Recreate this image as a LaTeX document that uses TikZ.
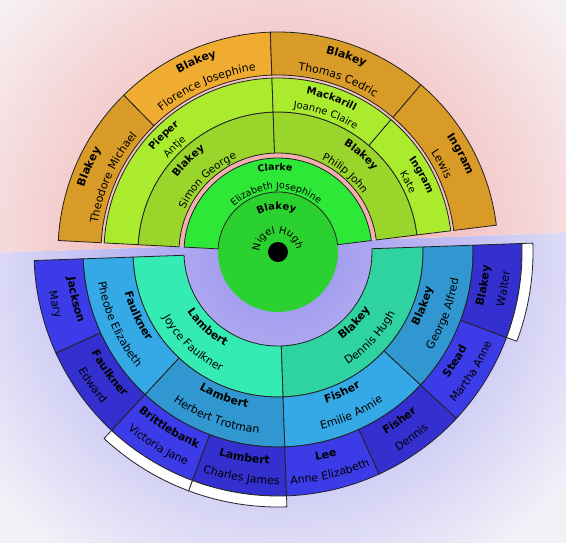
\documentclass[tikz,border=0pt]{standalone}
\usepackage{fontspec}
\setmainfont{DejaVu Sans}
\usepackage{xcolor}
\definecolor{rootGreen}{HTML}{2BD12F}
\definecolor{partnerGreen}{HTML}{2EE838}
\definecolor{childLime}{HTML}{9AD52B}
\definecolor{spouseLime}{HTML}{AAEB2E}
\definecolor{grandOchre}{HTML}{D99B28}
\definecolor{grandAmber}{HTML}{F0AC30}
\definecolor{parentMint}{HTML}{33EBB3}
\definecolor{parentTeal}{HTML}{2ED3A0}
\definecolor{grandSky}{HTML}{35A9E6}
\definecolor{grandCerulean}{HTML}{3097D0}
\definecolor{greatBlue}{HTML}{3C3BE8}
\definecolor{greatIndigo}{HTML}{3430D0}
\definecolor{outlineDark}{HTML}{222222}
\definecolor{pinkInner}{HTML}{F39999}
\definecolor{pinkOuter}{HTML}{F6F0F2}
\definecolor{lavenderInner}{HTML}{968EEE}
\definecolor{lavenderOuter}{HTML}{F1F1F8}
\usepackage{tikz}
\usetikzlibrary{decorations.text}
\tikzset{
    % Outline of every person box
    fan box/.style={
        draw=outlineDark,
        line width=0.8pt,
        line join=round,
    },
    % Empty bar for more generations
    more bar/.style={
        fan box,
        fill=white,
    },
    % Name written along an arc
    arc text/.style={
        decorate,
        decoration={text along path, text align=center, text={#1}},
    },
}
% font size in px
\newcommand{\fanFont}[1]{\fontsize{#1}{#1}\selectfont}
% box: from angle, to angle, inner radius, outer radius, fill
\newcommand{\fanBox}[5]{%
    \filldraw[fan box, fill=#5] (#1:#3pt) arc[start angle=#1, end angle=#2, radius=#3pt]
        -- (#2:#4pt) arc[start angle=#2, end angle=#1, radius=#4pt] -- cycle;}
% upper half, text tops point outwards
\newcommand{\upperLabel}[5]{%
    \path[arc text={|#4|#5}] (#2:#3pt) arc[start angle=#2, end angle=#1, radius=#3pt];}
% lower half, text tops point to the centre
\newcommand{\lowerLabel}[5]{%
    \path[arc text={|#4|#5}] (#1:#3pt) arc[start angle=#1, end angle=#2, radius=#3pt];}

\begin{document}
\begin{tikzpicture}[x=1pt, y=1pt]
    \useasboundingbox (-278,-290) rectangle (288,252);
    \begin{scope}
        \clip[rotate=2] (-700,9) rectangle (700,700);
        \fill[pinkOuter] (-700,-700) rectangle (700,700);
        \shade[inner color=pinkInner, outer color=pinkOuter] (0,0) circle (370pt);
    \end{scope}
    \begin{scope}
        \clip[rotate=2] (-700,9) rectangle (700,-700);
        \fill[lavenderOuter] (-700,-700) rectangle (700,700);
        \shade[inner color=lavenderInner, outer color=lavenderOuter] (0,0) circle (370pt);
    \end{scope}

    \fill[rootGreen] (0,0) circle (60pt);

    \fanBox{7}{177}{60}{94}{partnerGreen}
    \fanBox{92}{177}{99}{140}{childLime}
    \fanBox{7}{92}{99}{140}{childLime}
    \fanBox{92}{177}{140}{174}{spouseLime}
    \fanBox{49.5}{92}{140}{174}{spouseLime}
    \fanBox{7}{49.5}{140}{174}{spouseLime}
    \fanBox{134.5}{177}{177}{220}{grandOchre}
    \fanBox{92}{134.5}{177}{220}{grandAmber}
    \fanBox{49.5}{92}{177}{220}{grandOchre}
    \fanBox{7}{49.5}{177}{220}{grandOchre}

    \fanBox{182}{272}{94}{145}{parentMint}
    \fanBox{272}{362}{94}{145}{parentTeal}
    \fanBox{182}{227}{145}{195}{grandSky}
    \fanBox{227}{272}{145}{195}{grandCerulean}
    \fanBox{272}{317}{145}{195}{grandSky}
    \fanBox{317}{362}{145}{195}{grandCerulean}
    \fanBox{182}{204.5}{195}{244}{greatBlue}
    \fanBox{204.5}{227}{195}{244}{greatIndigo}
    \fanBox{227}{249.5}{195}{244}{greatBlue}
    \fanBox{249.5}{272}{195}{244}{greatIndigo}
    \fanBox{272}{294.5}{195}{244}{greatBlue}
    \fanBox{294.5}{317}{195}{244}{greatIndigo}
    \fanBox{317}{339.5}{195}{244}{greatBlue}
    \fanBox{339.5}{362}{195}{244}{greatIndigo}
    \fanBox{227}{249.5}{244}{255}{white}
    \fanBox{249.5}{272}{244}{255}{white}
    \fanBox{339.5}{362}{244}{255}{white}

    \fill[black] (0,0) circle (10pt);

    \upperLabel{2}{182}{42.5}{\fanFont{10}\bfseries}{Blakey}
    \upperLabel{-88}{272}{18.5}{\fanFont{10}}{Nigel Hugh}
    \upperLabel{7}{177}{81.5}{\fanFont{9.5}\bfseries}{Clarke}
    \upperLabel{7}{177}{63}{\fanFont{9.5}}{Elizabeth Josephine}
    \upperLabel{92}{177}{125.5}{\fanFont{10.5}\bfseries}{Blakey}
    \upperLabel{92}{177}{102.5}{\fanFont{10.5}}{Simon George}
    \upperLabel{7}{92}{125.5}{\fanFont{10.5}\bfseries}{Blakey}
    \upperLabel{7}{92}{102.5}{\fanFont{10.5}}{Philip John}
    \upperLabel{92}{177}{160.5}{\fanFont{10}\bfseries}{Pieper}
    \upperLabel{92}{177}{144.5}{\fanFont{10}}{Antje}
    \upperLabel{49.5}{92}{160.5}{\fanFont{10}\bfseries}{Mackarill}
    \upperLabel{49.5}{92}{144.5}{\fanFont{10}}{Joanne Claire}
    \upperLabel{7}{49.5}{160.5}{\fanFont{10}\bfseries}{Ingram}
    \upperLabel{7}{49.5}{144.5}{\fanFont{10}}{Kate}
    \upperLabel{134.5}{177}{204.5}{\fanFont{11}\bfseries}{Blakey}
    \upperLabel{134.5}{177}{182.5}{\fanFont{11}}{Theodore Michael}
    \upperLabel{92}{134.5}{204.5}{\fanFont{11}\bfseries}{Blakey}
    \upperLabel{92}{134.5}{182.5}{\fanFont{11}}{Florence Josephine}
    \upperLabel{49.5}{92}{204.5}{\fanFont{11}\bfseries}{Blakey}
    \upperLabel{49.5}{92}{182.5}{\fanFont{11}}{Thomas Cedric}
    \upperLabel{7}{49.5}{204.5}{\fanFont{11}\bfseries}{Ingram}
    \upperLabel{7}{49.5}{182.5}{\fanFont{11}}{Lewis}

    \lowerLabel{182}{272}{108.5}{\fanFont{11}\bfseries}{Lambert}
    \lowerLabel{182}{272}{132.5}{\fanFont{11}}{Joyce Faulkner}
    \lowerLabel{272}{362}{108.5}{\fanFont{11}\bfseries}{Blakey}
    \lowerLabel{272}{362}{132.5}{\fanFont{11}}{Dennis Hugh}
    \lowerLabel{182}{227}{158.5}{\fanFont{11}\bfseries}{Faulkner}
    \lowerLabel{182}{227}{182.5}{\fanFont{11}}{Pheobe Elizabeth}
    \lowerLabel{227}{272}{158.5}{\fanFont{11}\bfseries}{Lambert}
    \lowerLabel{227}{272}{182.5}{\fanFont{11}}{Herbert Trotman}
    \lowerLabel{272}{317}{158.5}{\fanFont{11}\bfseries}{Fisher}
    \lowerLabel{272}{317}{182.5}{\fanFont{11}}{Emilie Annie}
    \lowerLabel{317}{362}{158.5}{\fanFont{11}\bfseries}{Blakey}
    \lowerLabel{317}{362}{182.5}{\fanFont{11}}{George Alfred}
    \lowerLabel{182}{204.5}{212}{\fanFont{11}\bfseries}{Jackson}
    \lowerLabel{182}{204.5}{232.5}{\fanFont{11}}{Mary}
    \lowerLabel{204.5}{227}{212}{\fanFont{11}\bfseries}{Faulkner}
    \lowerLabel{204.5}{227}{232.5}{\fanFont{11}}{Edward}
    \lowerLabel{227}{249.5}{212}{\fanFont{11}\bfseries}{Brittlebank}
    \lowerLabel{227}{249.5}{232.5}{\fanFont{11}}{Victoria Jane}
    \lowerLabel{249.5}{272}{212}{\fanFont{11}\bfseries}{Lambert}
    \lowerLabel{249.5}{272}{232.5}{\fanFont{11}}{Charles James}
    \lowerLabel{272}{294.5}{212}{\fanFont{11}\bfseries}{Lee}
    \lowerLabel{272}{294.5}{232.5}{\fanFont{11}}{Anne Elizabeth}
    \lowerLabel{294.5}{317}{212}{\fanFont{11}\bfseries}{Fisher}
    \lowerLabel{294.5}{317}{232.5}{\fanFont{11}}{Dennis}
    \lowerLabel{317}{339.5}{212}{\fanFont{11}\bfseries}{Stead}
    \lowerLabel{317}{339.5}{232.5}{\fanFont{11}}{Martha Anne}
    \lowerLabel{339.5}{362}{212}{\fanFont{11}\bfseries}{Blakey}
    \lowerLabel{339.5}{362}{232.5}{\fanFont{11}}{Walter}
\end{tikzpicture}
\end{document}
